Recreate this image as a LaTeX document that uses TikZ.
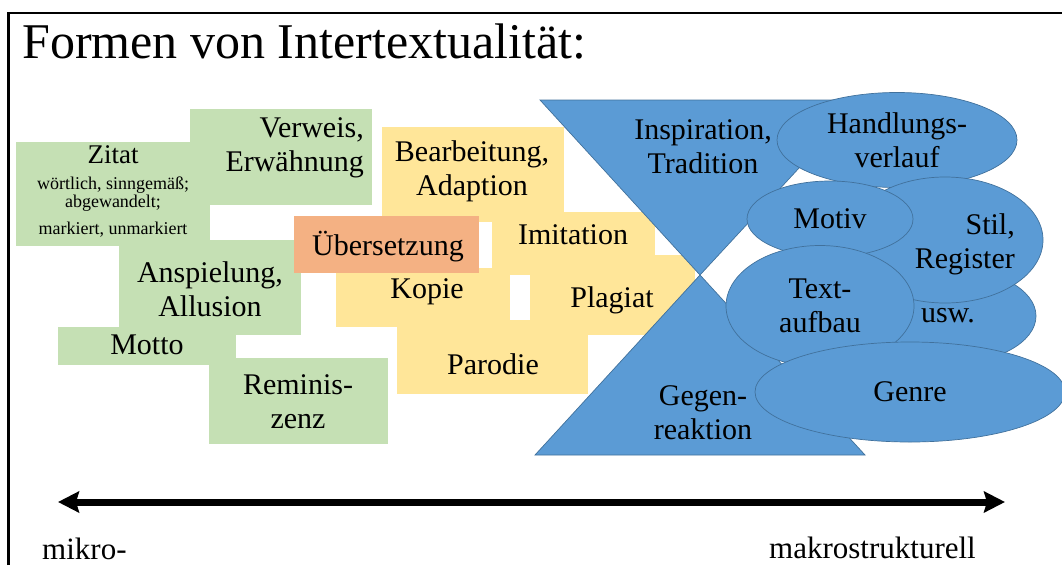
\documentclass[tikz,border=0pt]{standalone}
\usepackage{fontspec}
\setmainfont{Liberation Serif}
\usetikzlibrary{arrows.meta,shapes.geometric}
\definecolor{lgreen}{HTML}{C5E0B4}
\definecolor{lyellow}{HTML}{FFE699}
\definecolor{lorange}{HTML}{F4B183}
\definecolor{mblue}{HTML}{5B9BD5}
\definecolor{dblue}{HTML}{41719C}
\tikzset{
  lbl/.style={font=\fontsize{30}{34}\selectfont, align=center, inner sep=0pt},
  tiny/.style={font=\fontsize{18}{15}\selectfont, align=center, inner sep=0pt},
  blob/.style={ellipse, fill=mblue, draw=dblue, line width=0.7pt, inner sep=0pt,
    font=\fontsize{30}{34}\selectfont, align=center},
  scale arrow/.style={line width=7pt, {Stealth[length=21pt,width=21pt,inset=3pt]}-{Stealth[length=21pt,width=21pt,inset=3pt]}}
}
\begin{document}
\begin{tikzpicture}[x=1pt,y=-1pt]
\useasboundingbox (0,0) rectangle (1062,565);
% frame
\draw [line width=2.5pt] (8.5,565) -- (8.5,13) -- (1062,13);
\node (title) [anchor=base west, inner sep=0pt, font=\fontsize{50}{56}\selectfont] at (22,58) {Formen von Intertextualität:};

% green boxes
\fill [lgreen] (16,142) rectangle (210,246);
\fill [lgreen] (190,109) rectangle (372,205);
\fill [lgreen] (119,240) rectangle (301,335);
\fill [lgreen] (58,327) rectangle (236,365);
\fill [lgreen] (209,358) rectangle (388,444);

% yellow boxes
\fill [lyellow] (382,127) rectangle (564,222);
\fill [lyellow] (492,212) rectangle (655,275);
\fill [lyellow] (530,255) rectangle (695,335);
\fill [lyellow] (336,268) rectangle (510,327);
\fill [lyellow] (397,320) rectangle (588,394);
\fill [lorange] (294,216) rectangle (479,273);

% hourglass
\filldraw [fill=mblue, draw=dblue, line width=0.7pt] (540,100) -- (862,100) -- (700,275) -- cycle;
\filldraw [fill=mblue, draw=dblue, line width=0.7pt] (700,275) -- (535,455) -- (865,455) -- cycle;

% ellipses
\node (hand) [blob, minimum width=240, minimum height=95] at (897,140) {Handlungs-\\verlauf};
\node (usw) [blob, minimum width=176, minimum height=96] at (948,316) {usw.};
\node (stil) [blob, minimum width=196, minimum height=126] at (945,240) {};
\node (motiv) [blob, minimum width=166, minimum height=76] at (830,219) {Motiv};
\node (text) [blob, minimum width=188, minimum height=121] at (820,306) {Text-\\aufbau};
\node (genre) [blob, minimum width=310, minimum height=100] at (910,392) {Genre};

% labels
\node (zitat) [lbl, anchor=base, font=\fontsize{27}{30}\selectfont] at (113,163) {Zitat};
\node (art) [tiny, anchor=base] at (113,207) {wörtlich, sinngemäß;\\abgewandelt;};
\node (mark) [tiny, anchor=base] at (113,234) {markiert, unmarkiert};
\node (verweis) [lbl, align=right, anchor=east] at (364,148) {Verweis,\\Erwähnung};
\node (ansp) [lbl] at (210,289) {Anspielung,\\Allusion};
\node (motto) [lbl] at (147,345) {Motto};
\node (remin) [lbl] at (298,402) {Reminis-\\zenz};
\node (bearb) [lbl] at (472,171) {Bearbeitung,\\Adaption};
\node (uebers) [lbl] at (388,247) {Übersetzung};
\node (imit) [lbl] at (573,235) {Imitation};
\node (kopie) [lbl] at (427,292) {Kopie};
\node (plag) [lbl] at (612,300) {Plagiat};
\node (parod) [lbl] at (493,364) {Parodie};
\node (insp) [lbl] at (703,147) {Inspiration,\\Tradition};
\node (gegen) [lbl] at (703,413) {Gegen-\\reaktion};
\node (reg) [lbl, align=right, anchor=east] at (1015,244) {Stil,\\Register};

% scale
\coordinate (mikroend) at (58,502);
\coordinate (makroend) at (1005,502);
\draw [scale arrow] (mikroend) -- (makroend);
\node (mikro) [anchor=base west, inner sep=0pt, font=\fontsize{31}{34}\selectfont] at (42,559) {mikro-};
\node (makro) [anchor=base east, inner sep=0pt, font=\fontsize{31}{34}\selectfont] at (976,558) {makrostrukturell};
\end{tikzpicture}
\end{document}
